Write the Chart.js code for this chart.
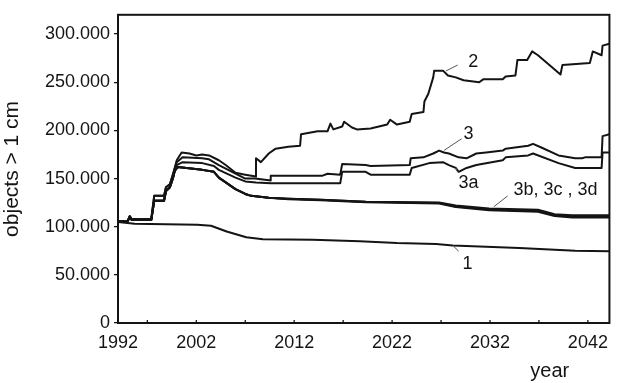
<!DOCTYPE html>
<html>
<head>
<meta charset="utf-8">
<script src="https://cdn.jsdelivr.net/npm/chart.js@4/dist/chart.umd.min.js"></script>
<style>
  html, body { margin: 0; padding: 0; background: #fff; }
  #wrap { width: 617px; height: 383px; position: relative; }
</style>
</head>
<body>
<div id="wrap"><canvas id="c" width="617" height="383"></canvas></div>
<script>
// Catalogued objects larger than 1 cm, scenario runs [year, objects]
const run1 = [
  [1994, 105000], [1995.7, 103000], [2002.1, 102000], [2003.5, 101000], [2005.1, 95000],
  [2007.1, 89000], [2008.8, 87000], [2013.9, 86500], [2018.7, 85000], [2022.5, 83000],
  [2026.5, 82000], [2028.2, 80500], [2035, 78000], [2040.7, 75000], [2044.2, 74500]
];

const run2 = [
  [1994, 106000], [1995.0, 106000], [1995.2, 111000], [1995.4, 108000], [1997.4, 108000],
  [1997.7, 132000], [1998.7, 132000], [1998.9, 141000], [1999.3, 144000], [1999.6, 154000],
  [1999.8, 161000], [2000.0, 169000], [2000.5, 177000], [2001.3, 176000], [2002.0, 174000],
  [2002.6, 175000], [2003.3, 174000], [2004.3, 169000], [2005.0, 164000], [2006.0, 156000],
  [2007.0, 154000], [2008.1, 152000], [2008.1, 171000], [2008.6, 167000], [2009.4, 176000],
  [2010.1, 181000], [2011.4, 183000], [2012.6, 184000], [2012.7, 196000], [2014.4, 199000],
  [2015.4, 199000], [2015.7, 207000], [2016.0, 201000], [2016.9, 204000], [2017.1, 209000],
  [2017.9, 203000], [2018.4, 201000], [2019.8, 202000], [2021.5, 206000], [2021.8, 211000],
  [2022.5, 206000], [2023.8, 209000], [2024.0, 217000], [2025.2, 219000], [2025.3, 230000],
  [2025.7, 238000], [2026.2, 255000], [2026.3, 262000], [2027.2, 262000], [2027.7, 257000],
  [2028.5, 255000], [2029.3, 252000], [2030.9, 250000], [2031.3, 253000], [2033.3, 253000],
  [2033.6, 256000], [2034.6, 257000], [2034.8, 273000], [2035.8, 273000], [2036.3, 282000],
  [2036.9, 278000], [2039.2, 258000], [2039.4, 268000], [2042.2, 270000], [2042.5, 282000],
  [2043.4, 278000], [2043.5, 288000], [2044.2, 290000]
];

const run3 = [
  [1994, 106000], [1995.0, 106000], [1995.2, 111000], [1995.4, 108000], [1997.4, 108000],
  [1997.7, 132000], [1998.7, 132000], [1998.9, 141000], [1999.3, 144000], [1999.6, 154000],
  [1999.8, 161000], [2000.0, 167000], [2000.6, 172000], [2002.6, 171000], [2003.3, 170000],
  [2004.3, 164000], [2006.0, 155000], [2007.0, 150000], [2008.0, 150000], [2009.6, 148000],
  [2009.6, 153000], [2014.9, 153000], [2015.4, 155000], [2016.7, 154000], [2016.9, 165000],
  [2019.3, 164000], [2019.8, 163000], [2023.8, 164000], [2023.9, 171000], [2025.2, 172000],
  [2026.2, 176000], [2026.8, 179000], [2027.3, 177000], [2027.8, 176000], [2028.8, 172000],
  [2029.6, 171000], [2030.6, 176000], [2031.6, 177000], [2033.3, 179000], [2033.6, 181000],
  [2035.9, 184000], [2036.4, 186000], [2037.3, 182000], [2039.0, 174000], [2040.7, 171000],
  [2041.4, 171000], [2041.7, 172000], [2043.4, 172000], [2043.5, 194000], [2044.2, 196000]
];

const run3a = [
  [1994, 106000], [1995.0, 106000], [1995.2, 110000], [1995.4, 107000], [1997.4, 107000],
  [1997.7, 127000], [1998.7, 127000], [1998.9, 137000], [1999.3, 141000], [1999.6, 150000],
  [1999.8, 158000], [2000.0, 164000], [2000.6, 167000], [2002.6, 166000], [2003.8, 163000],
  [2004.3, 159000], [2006.0, 151000], [2007.0, 147000], [2008.1, 146000], [2009.6, 145000],
  [2014.4, 145000], [2016.7, 145000], [2016.9, 157000], [2019.3, 157000], [2019.8, 154000],
  [2023.8, 154000], [2024.0, 161000], [2025.8, 166000], [2027.2, 167000], [2027.8, 164000],
  [2028.5, 161000], [2028.8, 157000], [2029.6, 161000], [2030.6, 164000], [2033.3, 169000],
  [2033.6, 172000], [2035.9, 174000], [2036.4, 176000], [2039.0, 166000], [2040.7, 161000],
  [2043.4, 161000], [2043.5, 177000], [2044.2, 177000]
];

const run3b = [
  [1994, 106000], [1995.0, 106000], [1995.2, 110000], [1995.4, 107000], [1997.4, 107000],
  [1997.7, 127000], [1998.7, 127000], [1998.9, 137000], [1999.3, 141000], [1999.6, 150000],
  [1999.8, 158000], [2000.1, 162000], [2002.6, 159000], [2003.8, 157000], [2004.3, 151000],
  [2006.0, 139000], [2007.0, 134000], [2007.6, 132000], [2009.4, 130000], [2011.4, 129000],
  [2014.7, 128000], [2019.3, 126000], [2026.8, 125000], [2028.5, 122000], [2031.9, 119000],
  [2036.9, 117500], [2038.6, 113000], [2040.4, 112000], [2044.2, 112000]
];

const run3c = [
  [1994, 106000], [1995.0, 106000], [1995.2, 110000], [1995.4, 107000], [1997.4, 107000],
  [1997.7, 127000], [1998.7, 127000], [1998.9, 137000], [1999.3, 141000], [1999.6, 150000],
  [1999.8, 158000], [2000.1, 162000], [2002.6, 159000], [2003.8, 157000], [2004.3, 151000],
  [2006.0, 139000], [2007.0, 134000], [2007.6, 132000], [2009.4, 130000], [2011.4, 129000],
  [2014.7, 128000], [2019.3, 126000], [2026.8, 124500], [2028.5, 121000], [2031.9, 118000],
  [2036.9, 116500], [2038.6, 112000], [2040.4, 110500], [2044.2, 110500]
];

const run3d = [
  [1994, 106000], [1995.0, 106000], [1995.2, 110000], [1995.4, 107000], [1997.4, 107000],
  [1997.7, 127000], [1998.7, 127000], [1998.9, 137000], [1999.3, 141000], [1999.6, 150000],
  [1999.8, 158000], [2000.1, 162000], [2002.6, 159000], [2003.8, 157000], [2004.3, 151000],
  [2006.0, 139000], [2007.0, 134000], [2007.6, 132000], [2009.4, 130000], [2011.4, 128500],
  [2014.7, 127500], [2019.3, 125500], [2026.8, 124000], [2028.5, 120500], [2031.9, 117000],
  [2036.9, 115500], [2038.6, 111000], [2040.4, 109500], [2044.2, 109500]
];

// Axis ticks
const yTickValues = [0, 50000, 100000, 150000, 200000, 250000, 300000];
const yTickLabels = ['0', '50.000', '100.000', '150.000', '200.000', '250.000', '300.000'];
const xTickValues = [1994, 1997, 2002, 2007, 2012, 2017, 2022, 2027, 2032, 2037, 2042];
const xTickLabels = ['1992', '', '2002', '', '2012', '', '2022', '', '2032', '', '2042'];

const INK = '#141414';
const FONT = "'Liberation Sans', Arial, Helvetica, sans-serif";

// Curve callouts: text with a short leader line, in data coordinates
const callouts = [
  { text: '2', at: [2030.3, 270800], from: [2027.5, 261700], to: [2028.7, 267800] },
  { text: '3', at: [2029.8, 196300], from: [2027.3, 179200], to: [2029.1, 191300] },
  { text: '3a', at: [2029.8, 145000], from: [2028.5, 161000], to: [2028.7, 156500] },
  { text: '3b, 3c , 3d', at: [2038.7, 137900], from: [2032.4, 120800], to: [2033.8, 131900] },
  { text: '1', at: [2029.7, 61400], from: [2028.2, 80500], to: [2028.8, 74500] }
];

const toXY = arr => arr.map(([x, y]) => ({ x, y }));
const line = (label, data, width) => ({
  label, data: toXY(data), borderColor: INK, borderWidth: width,
  pointRadius: 0, fill: false, tension: 0, borderJoinStyle: 'round'
});

const framePlugin = {
  id: 'frame',
  afterDatasetsDraw(chart) {
    const { ctx, chartArea: a, scales } = chart;
    ctx.save();
    ctx.strokeStyle = INK;
    ctx.lineWidth = 2;
    ctx.strokeRect(a.left, a.top, a.right - a.left, a.bottom - a.top);
    // short x tick marks pointing into the plot
    ctx.lineWidth = 1.3;
    xTickValues.forEach(v => {
      const px = scales.x.getPixelForValue(v);
      ctx.beginPath();
      ctx.moveTo(px, a.bottom);
      ctx.lineTo(px, a.bottom - 3);
      ctx.stroke();
    });
    // callouts
    ctx.fillStyle = INK;
    ctx.font = `18px ${FONT}`;
    ctx.textAlign = 'center';
    ctx.textBaseline = 'middle';
    callouts.forEach(c => {
      ctx.strokeStyle = '#555';
      ctx.lineWidth = 1;
      ctx.beginPath();
      ctx.moveTo(scales.x.getPixelForValue(c.from[0]), scales.y.getPixelForValue(c.from[1]));
      ctx.lineTo(scales.x.getPixelForValue(c.to[0]), scales.y.getPixelForValue(c.to[1]));
      ctx.stroke();
      ctx.fillText(c.text, scales.x.getPixelForValue(c.at[0]), scales.y.getPixelForValue(c.at[1]));
    });
    // x axis title, set under the right part of the axis
    ctx.font = `20px ${FONT}`;
    ctx.fillText('year', scales.x.getPixelForValue(2038.1), a.bottom + 48);
    ctx.restore();
  }
};

new Chart(document.getElementById('c'), {
  type: 'line',
  data: {
    datasets: [
      line('1', run1, 2),
      line('2', run2, 2),
      line('3', run3, 2),
      line('3a', run3a, 2),
      line('3b', run3b, 2),
      line('3c', run3c, 2),
      line('3d', run3d, 2)
    ]
  },
  options: {
    responsive: false,
    animation: false,
    devicePixelRatio: 1,
    layout: { padding: { top: 5, right: 2, left: 0, bottom: 0 } },
    plugins: { legend: { display: false }, tooltip: { enabled: false } },
    scales: {
      x: {
        type: 'linear',
        min: 1994,
        max: 2044.2,
        afterFit(scale) { scale.height = 60; },
        afterBuildTicks(scale) { scale.ticks = xTickValues.map(value => ({ value })); },
        grid: { display: false, drawTicks: false },
        border: { display: false },
        ticks: {
          autoSkip: false,
          maxRotation: 0,
          padding: 9,
          color: INK,
          font: { family: FONT, size: 18 },
          callback: (v) => xTickLabels[xTickValues.indexOf(v)] ?? ''
        }
      },
      y: {
        min: 0,
        max: 320000,
        afterFit(scale) { scale.width = 118; },
        afterBuildTicks(scale) { scale.ticks = yTickValues.map(value => ({ value })); },
        grid: { drawOnChartArea: false, drawTicks: true, tickLength: 4, color: INK, lineWidth: 1.3 },
        border: { display: false },
        ticks: {
          padding: 4,
          color: INK,
          font: { family: FONT, size: 18 },
          callback: (v) => yTickLabels[yTickValues.indexOf(v)] ?? ''
        },
        title: {
          display: true,
          text: 'objects > 1 cm',
          color: INK,
          font: { family: FONT, size: 21 },
          padding: { top: 0, bottom: 0 }
        }
      }
    }
  },
  plugins: [framePlugin]
});
</script>
</body>
</html>
